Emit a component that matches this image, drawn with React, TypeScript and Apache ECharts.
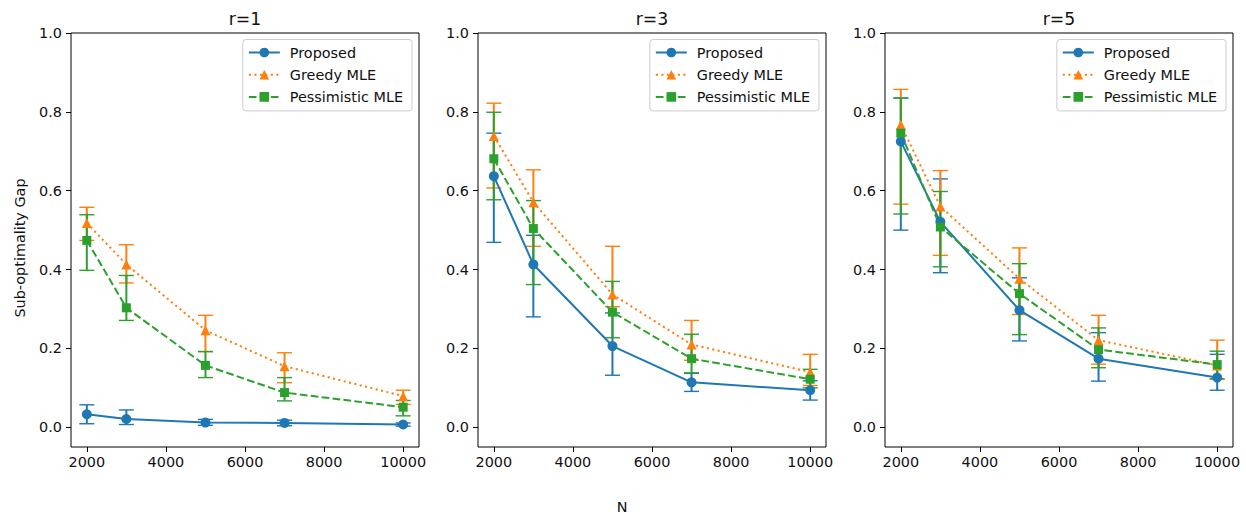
import React, { useEffect, useRef } from "react";
import * as echarts from "echarts";

// ---------- data ----------
const N = [2000, 3000, 5000, 7000, 10000];
const panelTitles = ["r=1", "r=3", "r=5"];
const seriesNames = ["Proposed", "Greedy MLE", "Pessimistic MLE"];
const xTicks = [2000, 4000, 6000, 8000, 10000];
const yTicks = [0, 0.2, 0.4, 0.6, 0.8, 1.0];

// r = 1
const r1Proposed = [0.033, 0.021, 0.012, 0.011, 0.007];
const r1ProposedLo = [0.009, 0.007, 0.005, 0.004, 0.003];
const r1ProposedHi = [0.057, 0.044, 0.02, 0.018, 0.011];
const r1Greedy = [0.518, 0.413, 0.246, 0.155, 0.079];
const r1GreedyLo = [0.474, 0.366, 0.192, 0.113, 0.058];
const r1GreedyHi = [0.558, 0.463, 0.284, 0.189, 0.094];
const r1Pess = [0.474, 0.303, 0.157, 0.088, 0.051];
const r1PessLo = [0.398, 0.271, 0.126, 0.067, 0.029];
const r1PessHi = [0.539, 0.385, 0.192, 0.126, 0.068];

// r = 3
const r3Proposed = [0.637, 0.413, 0.206, 0.114, 0.094];
const r3ProposedLo = [0.469, 0.28, 0.132, 0.091, 0.069];
const r3ProposedHi = [0.746, 0.487, 0.29, 0.137, 0.118];
const r3Greedy = [0.739, 0.571, 0.337, 0.21, 0.14];
const r3GreedyLo = [0.607, 0.459, 0.306, 0.17, 0.106];
const r3GreedyHi = [0.822, 0.653, 0.459, 0.271, 0.185];
const r3Pess = [0.681, 0.504, 0.292, 0.174, 0.122];
const r3PessLo = [0.577, 0.362, 0.227, 0.138, 0.1];
const r3PessHi = [0.799, 0.575, 0.37, 0.236, 0.147];

// r = 5
const r5Proposed = [0.725, 0.521, 0.297, 0.174, 0.126];
const r5ProposedLo = [0.5, 0.392, 0.219, 0.117, 0.094];
const r5ProposedHi = [0.835, 0.63, 0.379, 0.24, 0.185];
const r5Greedy = [0.767, 0.56, 0.377, 0.221, 0.157];
const r5GreedyLo = [0.566, 0.436, 0.286, 0.16, 0.122];
const r5GreedyHi = [0.857, 0.651, 0.455, 0.284, 0.221];
const r5Pess = [0.746, 0.508, 0.339, 0.197, 0.159];
const r5PessLo = [0.541, 0.407, 0.235, 0.151, 0.123];
const r5PessHi = [0.835, 0.598, 0.415, 0.252, 0.193];

const panels = [
  {
    mean: [r1Proposed, r1Greedy, r1Pess],
    lo: [r1ProposedLo, r1GreedyLo, r1PessLo],
    hi: [r1ProposedHi, r1GreedyHi, r1PessHi],
  },
  {
    mean: [r3Proposed, r3Greedy, r3Pess],
    lo: [r3ProposedLo, r3GreedyLo, r3PessLo],
    hi: [r3ProposedHi, r3GreedyHi, r3PessHi],
  },
  {
    mean: [r5Proposed, r5Greedy, r5Pess],
    lo: [r5ProposedLo, r5GreedyLo, r5PessLo],
    hi: [r5ProposedHi, r5GreedyHi, r5PessHi],
  },
];

// ---------- styles ----------
const FONT = "DejaVu Sans";
const FS = 14.4;
const TEXT = "#111";
const colors = ["#1f77b4", "#ff7f0e", "#2ca02c"];
const symbols = ["circle", "triangle", "rect"];
const symbolSizes = [10, 10, 9];
const dashes: any[] = ["solid", [2.1, 3.4], [7.7, 3.3]];
const gridLefts = [71, 478, 885];
const gridWidth = 348;
const gridTop = 33;
const gridHeight = 414;

function buildOption() {
  const grid: any[] = [];
  const xAxis: any[] = [];
  const yAxis: any[] = [];
  const series: any[] = [];
  const legend: any[] = [];
  const graphic: any[] = [];

  panels.forEach((p, gi) => {
    grid.push({
      left: gridLefts[gi],
      top: gridTop,
      width: gridWidth,
      height: gridHeight,
      show: true,
      borderColor: "#000",
      borderWidth: 1,
      backgroundColor: "transparent",
      containLabel: false,
    });
    xAxis.push({
      type: "value",
      gridIndex: gi,
      min: 1600,
      max: 10400,
      position: "bottom",
      axisLine: { show: false, onZero: false },
      splitLine: { show: false },
      axisTick: {
        show: true,
        customValues: xTicks,
        length: 5,
        lineStyle: { color: "#000", width: 1 },
      },
      axisLabel: {
        customValues: xTicks,
        margin: 8,
        fontSize: FS,
        fontFamily: FONT,
        color: TEXT,
        formatter: (v: number) => String(v),
      },
    });
    yAxis.push({
      type: "value",
      gridIndex: gi,
      min: -0.05,
      max: 1.0,
      position: "left",
      axisLine: { show: false, onZero: false },
      splitLine: { show: false },
      axisTick: {
        show: true,
        customValues: yTicks,
        length: 5,
        lineStyle: { color: "#000", width: 1 },
      },
      axisLabel: {
        customValues: yTicks,
        margin: 9,
        fontSize: FS,
        fontFamily: FONT,
        color: TEXT,
        formatter: (v: number) => v.toFixed(1),
      },
    });

    // error bars first (drawn below the lines)
    seriesNames.forEach((name, si) => {
      const data = N.map((n, i) => [n, p.lo[si][i], p.hi[si][i]]);
      const color = colors[si];
      series.push({
        type: "custom",
        name: name + " error",
        xAxisIndex: gi,
        yAxisIndex: gi,
        z: 2,
        silent: true,
        encode: { x: 0, y: [1, 2] },
        data,
        renderItem: (params: any, api: any) => {
          const x = api.value(0);
          const pLo = api.coord([x, api.value(1)]);
          const pHi = api.coord([x, api.value(2)]);
          const cw = 7.5;
          const barStyle = { stroke: color, lineWidth: 2 };
          const capStyle = { stroke: color, lineWidth: 1.4 };
          return {
            type: "group",
            children: [
              {
                type: "line",
                shape: { x1: pLo[0], y1: pLo[1], x2: pHi[0], y2: pHi[1] },
                style: barStyle,
              },
              {
                type: "line",
                shape: { x1: pLo[0] - cw, y1: pLo[1], x2: pLo[0] + cw, y2: pLo[1] },
                style: capStyle,
              },
              {
                type: "line",
                shape: { x1: pHi[0] - cw, y1: pHi[1], x2: pHi[0] + cw, y2: pHi[1] },
                style: capStyle,
              },
            ],
          };
        },
      });
    });

    seriesNames.forEach((name, si) => {
      series.push({
        type: "line",
        name,
        xAxisIndex: gi,
        yAxisIndex: gi,
        z: 3,
        data: N.map((n, i) => [n, p.mean[si][i]]),
        symbol: symbols[si],
        symbolSize: symbolSizes[si],
        showAllSymbol: true,
        itemStyle: { color: colors[si] },
        lineStyle: { color: colors[si], width: 2, type: dashes[si] },
        emphasis: { disabled: true },
      });
    });

    legend.push({
      right: 1246 - (gridLefts[gi] + gridWidth) + 7,
      top: 39.5,
      orient: "vertical",
      data: seriesNames,
      itemWidth: 31,
      itemHeight: 12,
      itemGap: 8.2,
      padding: [6, 9, 7, 5],
      backgroundColor: "rgba(255,255,255,0.8)",
      borderColor: "#cccccc",
      borderWidth: 1,
      borderRadius: 3,
      selectedMode: false,
      textStyle: {
        fontSize: FS,
        fontFamily: FONT,
        color: TEXT,
        lineHeight: 12,
        padding: [0, 0, 0, 5],
      },
    });

    graphic.push({
      type: "text",
      x: gridLefts[gi] + gridWidth / 2,
      y: 19,
      style: {
        text: panelTitles[gi],
        fontSize: 17.3,
        fontFamily: FONT,
        fill: TEXT,
        align: "center",
        verticalAlign: "middle",
      },
    });
  });

  graphic.push({
    type: "text",
    x: 20,
    y: 248,
    rotation: Math.PI / 2,
    style: {
      text: "Sub-optimality Gap",
      fontSize: FS,
      fontFamily: FONT,
      fill: TEXT,
      align: "center",
      verticalAlign: "middle",
    },
  });
  graphic.push({
    type: "text",
    x: 622,
    y: 507,
    style: {
      text: "N",
      fontSize: FS,
      fontFamily: FONT,
      fill: TEXT,
      align: "center",
      verticalAlign: "middle",
    },
  });

  return {
    animation: false,
    backgroundColor: "#fff",
    grid,
    xAxis,
    yAxis,
    series,
    legend,
    graphic,
  };
}

export default function App() {
  const ref = useRef<HTMLDivElement>(null);
  useEffect(() => {
    if (!ref.current) return;
    const chart = echarts.init(ref.current, undefined, { renderer: "svg" });
    chart.setOption(buildOption() as any);
    return () => chart.dispose();
  }, []);
  return (
    <div
      ref={ref}
      style={{ position: "fixed", left: 0, top: 0, width: 1246, height: 517, background: "#fff" }}
    />
  );
}
